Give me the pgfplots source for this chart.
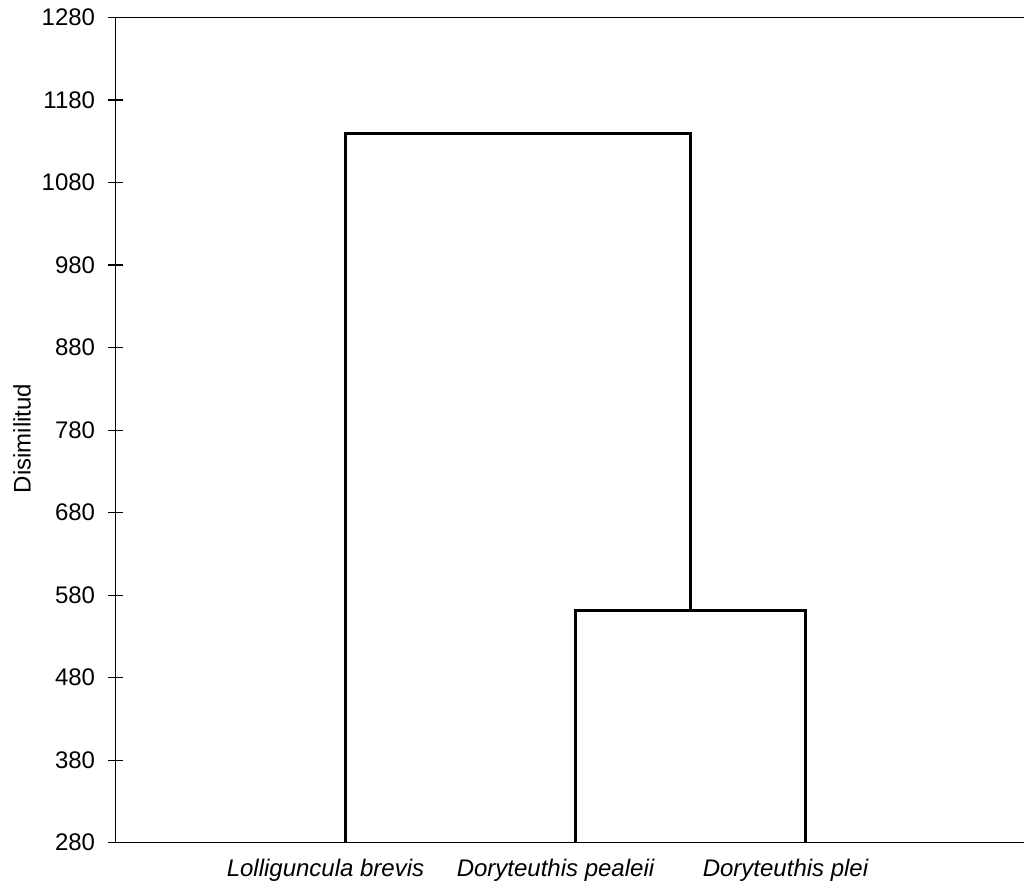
\documentclass[border=0pt]{standalone}
\usepackage{pgfplots}
\pgfplotsset{compat=1.18}
\usepackage{fontspec}
\setmainfont{Liberation Sans}
\begin{document}
\begin{tikzpicture}
\begin{axis}[
  scale only axis, width=454.25pt, height=412.6pt,
  xmin=0, xmax=3.95, ymin=280, ymax=1280,
  axis x line*=box, axis y line*=left,
  axis line style={-, line width=0.6pt, black},
  ytick={280,380,...,1280},
  ytick pos=left,
  xtick={1,2,3},
  xticklabels={Lolliguncula brevis, Doryteuthis pealeii, Doryteuthis plei},
  x tick style={draw=none},
  tick align=inside, major tick length=7pt,
  y tick style={line width=0.6pt, black, xshift=-3.5pt},
  /pgf/number format/assume math mode=true,
  /pgf/number format/set thousands separator={},
  yticklabel style={font=\fontsize{12}{14}\selectfont, anchor=east, inner sep=0pt, xshift=-10pt},
  xticklabel style={font=\fontsize{12}{14}\selectfont\itshape, xshift=-10pt, inner sep=0pt, yshift=-7.75pt},
  ylabel={Disimilitud},
  ylabel style={font=\fontsize{12}{14}\selectfont, at={(axis description cs:-0.1029,0.49)}, anchor=center},
  clip=false,
]
\addplot[black, line width=1.5pt, line join=miter] coordinates {(1,280) (1,1139) (2.5,1139) (2.5,561)};
\addplot[black, line width=1.5pt, line join=miter] coordinates {(2,280) (2,561) (3,561) (3,280)};
\end{axis}
\pgfresetboundingbox
\path[use as bounding box] ([shift={(-57.75pt,-26.15pt)}]current axis.south west) rectangle ([shift={(0pt,8.75pt)}]current axis.north east);
\end{tikzpicture}
\end{document}
